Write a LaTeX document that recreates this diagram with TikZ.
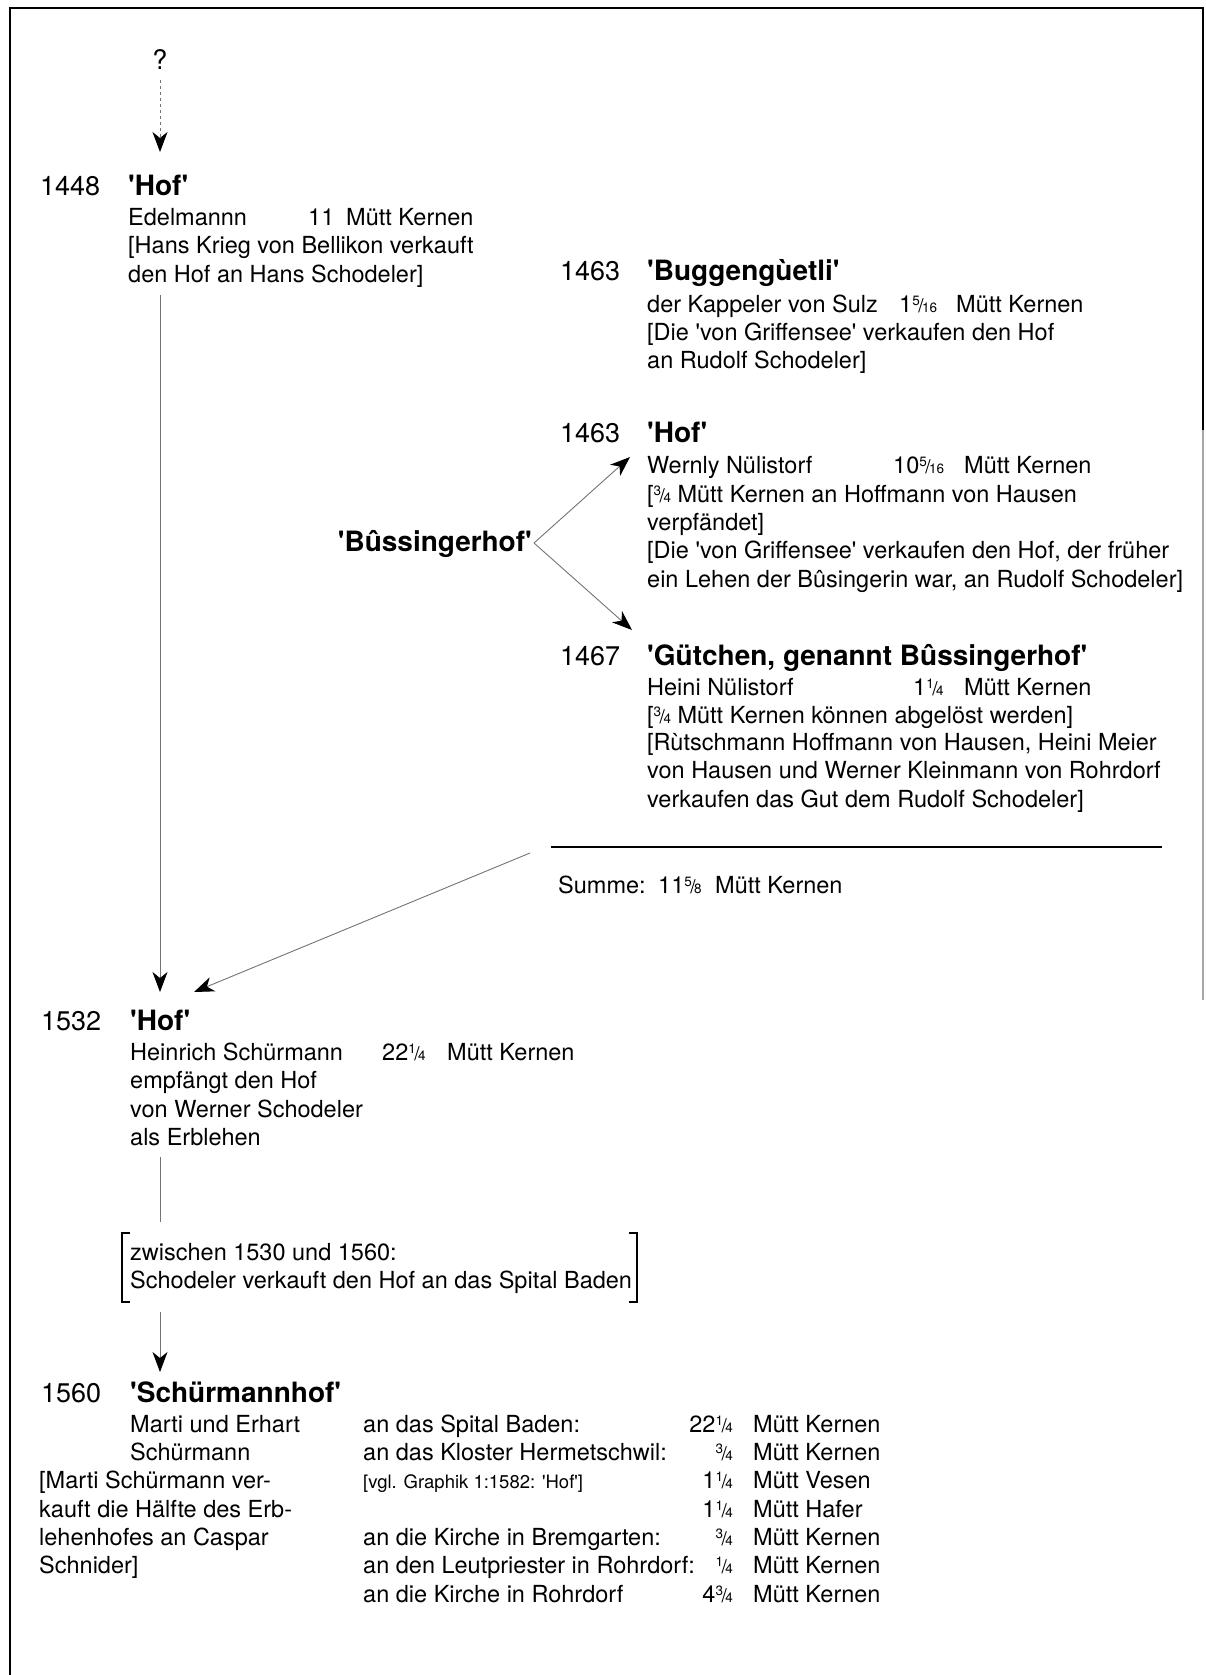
\documentclass[tikz,border=0pt]{standalone}
\usepackage{fontspec}
\setmainfont{TeX Gyre Heros}
\usetikzlibrary{arrows.meta}
\newcommand\sq{\textquotesingle}
\newcommand\fr[2]{\raisebox{7pt}{\fontsize{13.5}{13.5}\selectfont #1}\kern-1.5pt{\fontsize{19}{19}\selectfont/}\kern-1.5pt{\fontsize{13.5}{13.5}\selectfont #2}}
\tikzset{
  yr/.style={anchor=base west, inner sep=0pt, font=\fontsize{27}{30}\selectfont},
  ttl/.style={anchor=base west, inner sep=0pt, font=\fontsize{28}{30}\selectfont\bfseries},
  txt/.style={anchor=base west, inner sep=0pt, font=\fontsize{23.5}{28}\selectfont},
  smalltxt/.style={anchor=base west, inner sep=0pt, font=\fontsize{18.5}{20}\selectfont},
  num/.style={anchor=base east, inner sep=0pt, font=\fontsize{23.5}{28}\selectfont},
  conn/.style={draw=black!55, line width=0.9pt},
  tip/.style={-{Stealth[length=20pt,width=15pt,inset=6pt,color=black]}},
  frame/.style={draw=black, line width=2pt},
}
\begin{document}
\begin{tikzpicture}[x=1pt,y=-1pt]
\useasboundingbox (0,0) rectangle (1206,1675);
% frame
\draw[frame] (10,1675) -- (10,8) -- (1203,8) -- (1203,430);
\draw[draw=black!35, line width=1.5pt] (1203,430) -- (1203,1000);

% question mark
\node[anchor=base, inner sep=0pt, font=\fontsize{27}{30}\selectfont] (q) at (160,70) {?};
\coordinate (qs) at (160,80);
\coordinate (t1) at (160,152);
\draw[conn, dash pattern=on 3pt off 3pt, tip] (qs) -- (t1);

% 1448
\node[yr] (y1448) at (40,195) {1448};
\node[ttl] (h1448) at (128,195) {\sq Hof\sq};
\node[txt] (a1) at (128,225) {Edelmannn};
\node[txt] (a1n) at (308,225) {11};
\node[txt] (a1u) at (346,225) {Mütt Kernen};
\node[txt] (a2) at (128,253) {[Hans Krieg von Bellikon verkauft};
\node[txt] (a3) at (128,282) {den Hof an Hans Schodeler]};

% 1463 Buggenguetli
\node[yr] (y1463a) at (560,280) {1463};
\node[ttl] (hb) at (647,280) {\sq Buggengùetli\sq};
\node[txt] (b1) at (647,312) {der Kappeler von Sulz};
\node[txt] (b1n) at (899,312) {1\fr{5}{16}};
\node[txt] (b1u) at (956,312) {Mütt Kernen};
\node[txt] (b2) at (647,340) {[Die \sq von Griffensee\sq{} verkaufen den Hof};
\node[txt] (b3) at (647,368) {an Rudolf Schodeler]};

% 1463 Hof
\node[yr] (y1463b) at (560,442) {1463};
\node[ttl] (hc) at (647,442) {\sq Hof\sq};
\node[txt] (c1) at (647,473) {Wernly Nülistorf};
\node[txt] (c1n) at (893,473) {10\fr{5}{16}};
\node[txt] (c1u) at (964,473) {Mütt Kernen};
\node[txt] (c2) at (647,502) {[\fr{3}{4} Mütt Kernen an Hoffmann von Hausen};
\node[txt] (c3) at (647,530) {verpfändet]};
\node[txt] (c4) at (647,558) {[Die \sq von Griffensee\sq{} verkaufen den Hof, der früher};
\node[txt] (c5) at (647,587) {ein Lehen der Bûsingerin war, an Rudolf Schodeler]};

% Bussingerhof
\node[ttl, anchor=base east] (bh) at (532,551) {\sq Bûssingerhof\sq};
\coordinate (apex) at (534,543);
\coordinate (tc) at (630,457);
\coordinate (td) at (632,630);
\draw[conn, tip] (apex) -- (tc);
\draw[conn, tip] (apex) -- (td);

% 1467
\node[yr] (y1467) at (560,665) {1467};
\node[ttl] (hd) at (647,665) {\sq Gütchen, genannt Bûssingerhof\sq};
\node[txt] (d1) at (647,695) {Heini Nülistorf};
\node[txt] (d1n) at (913,695) {1\fr{1}{4}};
\node[txt] (d1u) at (964,695) {Mütt Kernen};
\node[txt] (d2) at (647,723) {[\fr{3}{4} Mütt Kernen können abgelöst werden]};
\node[txt] (d3) at (647,750) {[Rùtschmann Hoffmann von Hausen, Heini Meier};
\node[txt] (d4) at (647,778) {von Hausen und Werner Kleinmann von Rohrdorf};
\node[txt] (d5) at (647,807) {verkaufen das Gut dem Rudolf Schodeler]};

% sum line
\coordinate (sl) at (551,847);
\coordinate (sr) at (1162,847);
\draw[line width=2.5pt] (sl) -- (sr);
\node[txt] (s1) at (558,893) {Summe:};
\node[txt] (s1n) at (658,893) {11\fr{5}{8}};
\node[txt] (s1u) at (715,893) {Mütt Kernen};

% arrows into 1532
\coordinate (v1) at (160,295);
\coordinate (t2) at (160,992);
\draw[conn, tip] (v1) -- (t2);
\coordinate (ds) at (530,853);
\coordinate (t3) at (194,992);
\draw[conn, tip] (ds) -- (t3);

% 1532
\node[yr] (y1532) at (41,1030) {1532};
\node[ttl] (he) at (130,1030) {\sq Hof\sq};
\node[txt] (e1) at (130,1060) {Heinrich Schürmann};
\node[txt] (e1n) at (382,1060) {22\fr{1}{4}};
\node[txt] (e1u) at (447,1060) {Mütt Kernen};
\node[txt] (e2) at (130,1088) {empfängt den Hof};
\node[txt] (e3) at (130,1117) {von Werner Schodeler};
\node[txt] (e4) at (130,1145) {als Erblehen};

\coordinate (v2a) at (160,1157);
\coordinate (v2b) at (160,1222);
\draw[conn] (v2a) -- (v2b);

% bracket
\draw[line width=1.2pt] (130,1233) -- (122,1233) -- (122,1302) -- (130,1302);
\draw[line width=1.2pt] (629,1233) -- (637,1233) -- (637,1302) -- (629,1302);
\node[txt] (f1) at (130,1260) {zwischen 1530 und 1560:};
\node[txt] (f2) at (130,1288) {Schodeler verkauft den Hof an das Spital Baden};

\coordinate (v3a) at (160,1312);
\coordinate (t4) at (160,1372);
\draw[conn, tip] (v3a) -- (t4);

% 1560
\node[yr] (y1560) at (41,1402) {1560};
\node[ttl] (hg) at (130,1402) {\sq Schürmannhof\sq};
\node[txt] (g1) at (130,1432) {Marti und Erhart};
\node[txt] (g2) at (130,1460) {Schürmann};
\node[txt] (g3) at (39,1488) {[Marti Schürmann ver-};
\node[txt] (g4) at (39,1517) {kauft die Hälfte des Erb-};
\node[txt] (g5) at (39,1545) {lehenhofes an Caspar};
\node[txt] (g6) at (39,1573) {Schnider]};

\node[txt] (m1) at (363,1432) {an das Spital Baden:};
\node[txt] (m2) at (363,1460) {an das Kloster Hermetschwil:};
\node[smalltxt] (m3) at (363,1488) {[vgl. Graphik 1:1582: \sq Hof\sq]};
\node[txt] (m5) at (363,1545) {an die Kirche in Bremgarten:};
\node[txt] (m6) at (363,1573) {an den Leutpriester in Rohrdorf:};
\node[txt] (m7) at (363,1602) {an die Kirche in Rohrdorf};

\node[num] (n1) at (733,1432) {22\fr{1}{4}};
\node[num] (n2) at (733,1460) {\fr{3}{4}};
\node[num] (n3) at (733,1488) {1\fr{1}{4}};
\node[num] (n4) at (733,1517) {1\fr{1}{4}};
\node[num] (n5) at (733,1545) {\fr{3}{4}};
\node[num] (n6) at (733,1573) {\fr{1}{4}};
\node[num] (n7) at (733,1602) {4\fr{3}{4}};

\node[txt] (u1) at (753,1432) {Mütt Kernen};
\node[txt] (u2) at (753,1460) {Mütt Kernen};
\node[txt] (u3) at (753,1488) {Mütt Vesen};
\node[txt] (u4) at (753,1517) {Mütt Hafer};
\node[txt] (u5) at (753,1545) {Mütt Kernen};
\node[txt] (u6) at (753,1573) {Mütt Kernen};
\node[txt] (u7) at (753,1602) {Mütt Kernen};
\end{tikzpicture}
\end{document}
